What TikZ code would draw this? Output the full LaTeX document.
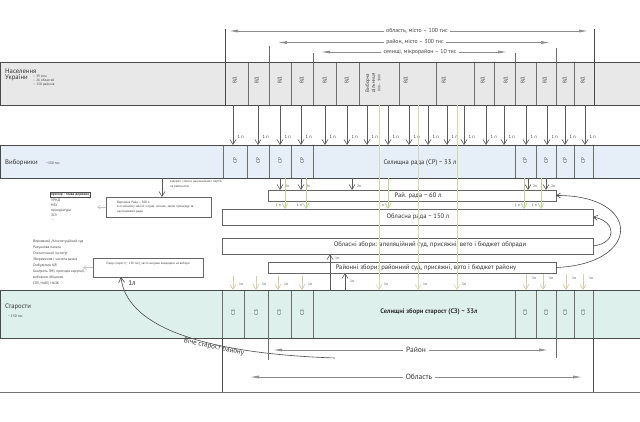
\documentclass[tikz,border=0pt]{standalone}
\usepackage{fontspec}
\setmainfont{PT Sans}
\usetikzlibrary{arrows.meta}
\definecolor{linec}{HTML}{4A4A4A}
\definecolor{sepc}{HTML}{6E6E6E}
\definecolor{arrc}{HTML}{5A5A5A}
\definecolor{gfill}{HTML}{E8E8E8}
\definecolor{bfill}{HTML}{E6EEF7}
\definecolor{tfill}{HTML}{DDF0EC}
\definecolor{pale}{HTML}{D4D9AE}
\definecolor{grn}{HTML}{B5DA8C}
\definecolor{beige}{HTML}{D8CBAE}
\definecolor{faint}{HTML}{C4C4C4}
\newcommand\cellrow[4]{%
  \foreach \a/\b [count=\i] in {#4}{%
    \pgfmathsetmacro\cw{\b-\a}%
    \node[cellst, minimum width=\cw pt, minimum height=#3 pt] (#1\i) at (\a,#2) {};}}
\begin{document}
\begin{tikzpicture}[x=1pt,y=-1pt,
  bandst/.style={anchor=north west, inner sep=0pt, outer sep=0pt},
  bordst/.style={draw=linec, line width=1pt},
  cellst/.style={draw=sepc, line width=0.7pt, anchor=north west, inner sep=0pt, outer sep=0pt},
  boxst/.style={draw=linec!85, line width=0.6pt, fill=white, anchor=north west, inner sep=0pt, outer sep=0pt},
  rot/.style={rotate=90, font=\fontsize{5}{5.6}\selectfont, text=black!75, inner sep=0pt},
  dn/.style={draw=arrc, line width=0.6pt, -{Straight Barb[length=5pt,width=6pt]}},
  gdn/.style={draw=grn, line width=0.7pt, -{Straight Barb[length=5pt,width=6pt]}},
  pdn/.style={draw=pale, line width=0.6pt, -{Straight Barb[length=5pt,width=6pt]}},
  bdn/.style={draw=beige, line width=0.7pt, -{Straight Barb[length=5pt,width=6pt]}},
  fdn/.style={draw=faint, line width=0.6pt, -{Straight Barb[length=3pt,width=4pt]}},
  curv/.style={draw=linec, line width=0.6pt, -{Straight Barb[length=4pt,width=5pt]}},
  harr/.style={draw=black!45, line width=0.7pt, -{Latex[length=9pt,width=3pt]}},
  vdark/.style={draw=linec, line width=1pt},
  vgray/.style={draw=sepc, line width=0.7pt},
  tiny/.style={font=\fontsize{3.6}{4.4}\selectfont, inner sep=0pt, text=black!75},
  lp/.style={font=\fontsize{4.5}{5}\selectfont, inner sep=0pt, text=black!75},
  midtxt/.style={font=\fontsize{6.6}{7.5}\selectfont, inner sep=0pt, text=black!80},
  head/.style={font=\fontsize{6.7}{8}\selectfont, inner sep=0pt, anchor=west, text=black!80},
  toptxt/.style={font=\fontsize{5.8}{6.5}\selectfont, inner sep=2.5pt, text=black!75},
  bigtxt/.style={font=\fontsize{7.5}{8.5}\selectfont, inner sep=3pt, text=black!80}]
\useasboundingbox (0,0) rectangle (640,421);

% ---------- bands ----------
\node[bandst, fill=gfill, minimum width=640pt, minimum height=43pt] (row1) at (0,62) {};
\node[bandst, fill=bfill, minimum width=640pt, minimum height=33pt] (row2) at (0,145) {};
\node[bandst, fill=tfill, minimum width=640pt, minimum height=48pt] (row5) at (0,290) {};

\cellrow{ca}{62}{43}{225/248,248/269,269/291,291/313,313/336,336/359,359/399,399/436,436/474,474/494,494/515,515/536,536/556,556/574,574/594}
\cellrow{cb}{145}{33}{223/247,247/269,269/291,291/313,515/536,536/556,556/574,574/593}
\cellrow{cc}{290}{48}{222/244,244/268,268/291,291/313,515/536,536/556,556/574,574/593}

\draw[bordst] (row1.north west) rectangle (row1.south east);
\draw[bordst] (row2.north west) rectangle (row2.south east);
\draw[bordst] (row5.north west) rectangle (row5.south east);

% ---------- top scale ----------
\coordinate (va) at (225,29);
\coordinate (vb) at (269,46);
\coordinate (vc) at (313,53);
\coordinate (vd) at (515,53);
\coordinate (ve) at (556,48);
\coordinate (vf) at (594,29);
\draw[vdark] (va) -- (va |- row1.south);
\draw[vdark] (vf) -- (vf |- row1.south);
\draw[vgray] (vb) -- (vb |- row1.north);
\draw[vgray] (vc) -- (vc |- row1.north);
\draw[vgray] (vd) -- (vd |- row1.north);
\draw[vgray] (ve) -- (ve |- row1.north);

\node[toptxt] (t1) at (417,31) {область, місто – 100 тис};
\node[toptxt] (t2) at (415,42.5) {район, місто – 300 тис};
\node[toptxt] (t3) at (420,52) {селищі, мікрорайон – 10 тис};
\coordinate (t1l) at (229,31);   \coordinate (t1r) at (588,31);
\coordinate (t2l) at (278,42.5); \coordinate (t2r) at (550,42.5);
\coordinate (t3l) at (321,52);   \coordinate (t3r) at (507,52);
\draw[harr] (t1.west) -- (t1l);
\draw[harr] (t1.east) -- (t1r);
\draw[harr] (t2.west) -- (t2l);
\draw[harr] (t2.east) -- (t2r);
\draw[harr] (t3.west) -- (t3l);
\draw[harr] (t3.east) -- (t3r);

% ---------- row 1 ----------
\node[head] (nas) at (5,71) {Населення};
\node[head] (ukr) at (5,78) {України};
\node[tiny, anchor=north west, align=left, font=\fontsize{3.4}{4.1}\selectfont] (nasl) at (33,75) {– 39 млн\\– 26 областей\\– 130 районів};
\foreach \x [count=\i] in {235,257,280,302,325,347,406,444,483,506,523,545,565,583}
  \node[rot] (vdl\i) at (\x,80) {ВД};
\node[rot, align=center] (vdil) at (373,83) {Виборча\\дільниця\\{\fontsize{3.4}{4}\selectfont 800 – 3000}};

% ---------- row 2 ----------
\node[head] (vyb) at (5,163) {Виборники};
\node[tiny, anchor=west] (vybn) at (46,163.5) {\textasciitilde130 тис};
\foreach \x [count=\i] in {235,258,280,302,525,546,565,583}
  \node[rot] (crl\i) at (\x,161) {СР};
\node[midtxt] (srtxt) at (420,163) {Селищна рада (СР) \textasciitilde{} 33 л};

% ---------- row 5 ----------
\node[head] (star) at (5,307) {Старости};
\node[tiny, anchor=west] (starn) at (8,316) {\textasciitilde{} 130 тис};
\foreach \x [count=\i] in {233,256,279,302,525,546,565,583}
  \node[rot] (czl\i) at (\x,313) {СЗ};
\node[midtxt, font=\fontsize{6.6}{7.5}\selectfont\bfseries] (sztxt) at (429,312) {Селищні збори старост (СЗ) \textasciitilde{} 33л};

% ---------- boxes ----------
\node[boxst, minimum width=288pt, minimum height=11pt] (rajrada) at (268,190) {};
\node[boxst, minimum width=371pt, minimum height=16pt] (oblrada) at (222,209) {};
\node[boxst, minimum width=371pt, minimum height=16pt] (oblzbory) at (222,238) {};
\node[boxst, minimum width=288pt, minimum height=11pt] (rajzbory) at (268,262) {};
\node[boxst, minimum width=105pt, minimum height=20pt] (vr) at (106,197) {};
\node[boxst, minimum width=110pt, minimum height=19pt] (lider) at (93,258) {};

\node[midtxt] (trr) at (418,196) {Рай. рада \textasciitilde{} 60 л};
\node[midtxt] (tor) at (418,217) {Обласна рада \textasciitilde{} 150 л};
\node[midtxt] (toz) at (430,245) {Обласні збори: апеляційний суд, присяжні, вето і бюджет облради};
\node[midtxt] (trz) at (426,268) {Районні збори: районний суд, присяжні, вето і бюджет району};

\node[tiny, anchor=west, align=left, font=\fontsize{3.2}{4.8}\selectfont] (vrt) at (117,207) {Верховна Рада – 300 л\\в основному законі з прав. змінює, закон процедур за\\настановами ради};
\node[tiny, anchor=center, font=\fontsize{3.1}{4}\selectfont] (lidt) at (148,264) {Лідер старост (\textasciitilde{} 130 тис), часто висуває кандидата на вибори};

% ---------- left texts ----------
\node[tiny, anchor=west, draw=linec, line width=0.5pt, inner sep=0.8pt, font=\fontsize{3.6}{4.4}\selectfont\bfseries] (prem) at (50,195) {прем’єр - глава держави};
\node[tiny, anchor=north west, align=left, font=\fontsize{3.6}{4.8}\selectfont] (preml) at (51,199) {УРНД\\НБУ\\прокуратура\\ЗСУ\\...};
\node[tiny, anchor=north west, align=left, font=\fontsize{3.6}{6}\selectfont] (sudl) at (33,240) {Верховний /Конституційний суд\\Рахункова палата\\Статистичний інститут\\Збереження і чистота даних\\Омбудсмен ЦВ\\Контроль ЗМІ, протидія корупції,\\виборчих обіцянок\\СБУ, НАБУ, НАЗК};
\node[tiny, anchor=north west, align=left, font=\fontsize{3.2}{5}\selectfont] (vidk) at (170,180) {відкриті списки національних партій\\за рейтингом};

\coordinate (fa1) at (97,207);
\coordinate (fa2) at (83,267.5);
\draw[fdn] (vr.west) -- (fa1);
\draw[fdn] (lider.west) -- (fa2);
\coordinate (vrx) at (162,0);
\draw[dn] (vrx |- row2.south) -- (vrx |- vr.north);

% ---------- arrows row1 -> row2 ----------
\foreach \x in {233,258,280,301,325,347,367,388,409,428,447,464,486,504,526,547,565,585}{
  \draw[dn] (\x,0 |- row1.south) -- (\x,0 |- row2.north);
  \node[lp, anchor=west] (p\x) at (\x+4.5,136.5) {1 п};
}

% ---------- arrows row2 -> raj rada ----------
\foreach \x in {280,301,352,528,546}{
  \draw[dn] (\x,0 |- row2.south) -- (\x,0 |- rajrada.north);
  \node[tiny, anchor=west] (q\x) at (\x+5,186.5) {2п};
}

% ---------- green arrows ----------
\foreach \x in {285,306,388,524,541}{
  \draw[gdn] (\x,0 |- row2.south) -- (\x,0 |- oblrada.north);
  \node[tiny, anchor=east] (g\x) at (\x-4,205) {1 п};
}

% ---------- pale long arrows ----------
\foreach \x in {379,418,457}{
  \draw[pdn] (\x,0 |- row1.south) -- (\x,0 |- row5.north);
  \node[tiny, anchor=west] (h\x) at (\x+5,284.5) {1п};
}

% ---------- beige arrows into row 5 ----------
\foreach \x in {233,256,278,302}{
  \coordinate (bs\x) at (\x,276);
  \draw[bdn] (bs\x) -- (bs\x |- row5.north);
  \node[tiny, anchor=west] (bl\x) at (\x+6,284.5) {1п};
}
\foreach \x in {526,543,566,583}{
  \coordinate (bs\x) at (\x,274);
  \draw[bdn] (bs\x) -- (bs\x |- row5.north);
  \node[tiny, anchor=west] (bl\x) at (\x+6,278) {1п};
}

% ---------- up arrows ----------
\coordinate (u1) at (330,0);
\coordinate (u2) at (345,0);
\draw[dn] (u1 |- row5.north) -- (u1 |- oblzbory.south);
\draw[dn] (u2 |- row5.north) -- (u2 |- rajzbory.south);
\node[tiny, anchor=west] (u1l) at (335,258) {1п};
\node[tiny, anchor=west] (u2l) at (350,281) {1п};

% ---------- right curves ----------
\draw[curv] (rajzbory.east) .. controls (642,264) and (642,195) .. (rajrada.east);
\draw[curv] (oblzbory.east) .. controls (618,243) and (616,221) .. (oblrada.east);

% ---------- viche curve ----------
\coordinate (vstart) at (335,358);
\coordinate (lin) at (121,277);
\draw[curv, -{Straight Barb[length=5pt,width=6pt]}] (vstart) .. controls (190,353) and (126,322) .. (lin);
\node[font=\fontsize{7}{8}\selectfont, inner sep=0pt, text=black!80] (l1) at (132,283) {1л};
\node[font=\fontsize{7}{8}\selectfont, inner sep=0pt, text=black!80, rotate=-12] (viche) at (214,347) {Віче старост району};

% ---------- bottom scale ----------
\coordinate (wa) at (222,392);
\coordinate (wb) at (268,360);
\coordinate (wc) at (556,358);
\coordinate (wd) at (593,392);
\draw[vdark] (wa |- row5.south) -- (wa);
\draw[vdark] (wd |- row5.south) -- (wd);
\draw[vgray] (wb |- row5.south) -- (wb);
\draw[vgray] (wc |- row5.south) -- (wc);
\coordinate (bl0) at (0,392);
\coordinate (br0) at (640,392);
\draw[draw=black!55, line width=0.8pt] (bl0) -- (br0);

\node[bigtxt] (rayon) at (416,350) {Район};
\node[bigtxt] (oblast) at (419,377) {Область};
\coordinate (r1l) at (273,350); \coordinate (r1r) at (548,350);
\coordinate (o1l) at (250,377); \coordinate (o1r) at (582,377);
\draw[harr] (rayon.west) -- (r1l);
\draw[harr] (rayon.east) -- (r1r);
\draw[harr] (oblast.west) -- (o1l);
\draw[harr] (oblast.east) -- (o1r);
\end{tikzpicture}
\end{document}
